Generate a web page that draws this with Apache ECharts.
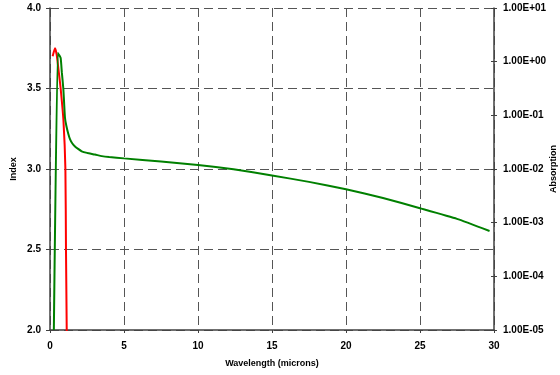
<!DOCTYPE html>
<html>
<head>
<meta charset="utf-8">
<script src="https://cdn.jsdelivr.net/npm/echarts@6/dist/echarts.min.js"></script>
<style>
  html, body { margin: 0; padding: 0; background: #fff; }
  #chart { width: 560px; height: 375px; }
</style>
</head>
<body>
<div id="chart"></div>
<script>
// Refractive index (left axis) against wavelength in microns
const indexWavelength = [0.26, 0.52, 0.60, 0.72, 0.80, 0.90, 0.96, 1.01, 1.10, 1.23, 1.35, 1.50, 1.69, 1.90, 2.14, 2.50, 3.04, 3.50, 4.0, 5, 7.5, 10, 12.4, 15, 17.5, 20, 22.5, 25, 27.5, 29.7];
const indexValues     = [2.00, 3.72, 3.71, 3.69, 3.60, 3.50, 3.40, 3.32, 3.27, 3.22, 3.185, 3.16, 3.14, 3.125, 3.11, 3.10, 3.09, 3.08, 3.074, 3.066, 3.047, 3.025, 2.998, 2.96, 2.92, 2.874, 2.82, 2.756, 2.69, 2.615];

// Absorption (right, logarithmic axis) against wavelength in microns
const absWavelength = [0.18, 0.34, 0.45, 0.60, 0.72, 0.91, 1.04, 1.08, 1.13, 1.18];
const absValues     = [1.26, 1.78, 1.35, 0.62, 0.316, 0.079, 0.01, 3.16e-4, 1e-5, 1e-7];

// Axis ranges and tick spacing
const xRange = [0, 30, 5];
const indexRange = [2.0, 4.0, 0.5];
const absRange = [1e-5, 1e1];

const font = 'Liberation Sans, Arial, sans-serif';
const axisColor = '#404040';
const gridLine = { show: true, lineStyle: { color: '#555', width: 1, type: [9, 5] } };

function pairs(xs, ys) {
  return xs.map((x, i) => [x, ys[i]]);
}

function sci(v) {
  const e = Math.round(Math.log10(v));
  const m = v / Math.pow(10, e);
  const sign = e < 0 ? '-' : '+';
  const digits = String(Math.abs(e)).padStart(2, '0');
  return m.toFixed(2) + 'E' + sign + digits;
}

const chart = echarts.init(document.getElementById('chart'), null, { renderer: 'canvas' });
chart.setOption({
  animation: false,
  backgroundColor: '#fff',
  grid: { left: 50, right: 66, top: 8, bottom: 45, containLabel: false, outerBoundsMode: 'none' },
  xAxis: {
    type: 'value',
    min: xRange[0], max: xRange[1], interval: xRange[2],
    name: 'Wavelength (microns)',
    nameLocation: 'middle', nameGap: 29, nameMoveOverlap: false,
    nameTextStyle: { fontFamily: font, fontWeight: 'bold', fontSize: 9, color: '#000' },
    axisLine: { lineStyle: { color: axisColor, width: 1.5 } },
    axisTick: { show: true, length: 3, lineStyle: { color: axisColor } },
    axisLabel: { fontFamily: font, fontWeight: 'bold', fontSize: 10, color: '#000', margin: 11 },
    splitLine: gridLine
  },
  yAxis: [
    {
      type: 'value',
      position: 'left',
      min: indexRange[0], max: indexRange[1], interval: indexRange[2],
      name: 'Index',
      nameLocation: 'middle', nameGap: 32, nameMoveOverlap: false,
      nameTextStyle: { fontFamily: font, fontWeight: 'bold', fontSize: 9, color: '#000' },
      axisLine: { show: true, lineStyle: { color: axisColor, width: 1.5 } },
      axisTick: { show: true, length: 4, lineStyle: { color: axisColor } },
      axisLabel: { fontFamily: font, fontWeight: 'bold', fontSize: 10, color: '#000', margin: 9,
        formatter: v => v.toFixed(1) },
      splitLine: gridLine
    },
    {
      type: 'log',
      logBase: 10,
      position: 'right',
      min: absRange[0], max: absRange[1],
      name: 'Absorption',
      nameLocation: 'middle', nameGap: 55, nameMoveOverlap: false,
      nameTextStyle: { fontFamily: font, fontWeight: 'bold', fontSize: 9, color: '#000' },
      axisLine: { show: true, lineStyle: { color: axisColor, width: 1.5 } },
      axisTick: { show: true, length: 3, lineStyle: { color: axisColor } },
      axisLabel: { fontFamily: font, fontWeight: 'bold', fontSize: 10, color: '#000', margin: 9,
        formatter: sci },
      splitLine: { show: false }
    },
    {
      // inner half of the crossing tick marks on the absorption axis
      type: 'log',
      logBase: 10,
      position: 'right',
      min: absRange[0], max: absRange[1],
      axisLine: { show: false },
      axisTick: { show: true, inside: true, length: 3, lineStyle: { color: axisColor } },
      axisLabel: { show: false },
      splitLine: { show: false }
    }
  ],
  series: [
    {
      name: 'Index',
      type: 'line',
      yAxisIndex: 0,
      data: pairs(indexWavelength, indexValues),
      showSymbol: false,
      smooth: 0.15,
      clip: true,
      lineStyle: { color: '#008000', width: 2 },
      z: 3
    },
    {
      name: 'Absorption',
      type: 'line',
      yAxisIndex: 1,
      data: pairs(absWavelength, absValues),
      showSymbol: false,
      smooth: 0.2,
      clip: true,
      lineStyle: { color: '#ff0000', width: 2 },
      z: 2
    }
  ]
});
</script>
</body>
</html>
